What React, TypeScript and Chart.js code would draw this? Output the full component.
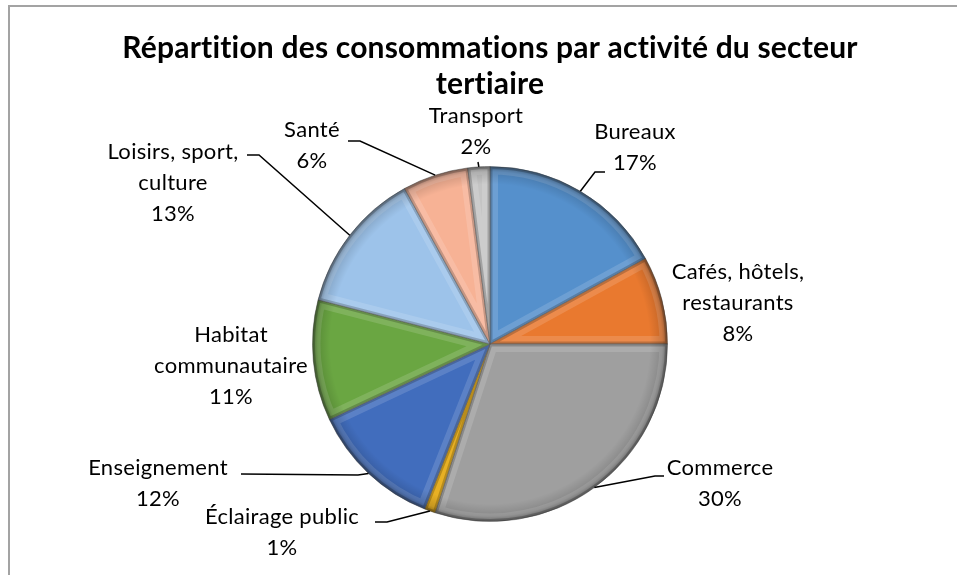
import React, { useEffect, useRef } from "react";
import { Chart, registerables } from "chart.js";

Chart.register(...registerables);

const categories = [
  "Bureaux",
  "Cafés, hôtels, restaurants",
  "Commerce",
  "Éclairage public",
  "Enseignement",
  "Habitat communautaire",
  "Loisirs, sport, culture",
  "Santé",
  "Transport",
];
const labelLines = [
  ["Bureaux"],
  ["Cafés, hôtels,", "restaurants"],
  ["Commerce"],
  ["Éclairage public"],
  ["Enseignement"],
  ["Habitat", "communautaire"],
  ["Loisirs, sport,", "culture"],
  ["Santé"],
  ["Transport"],
];
const shares = [17, 8, 30, 1, 12, 11, 13, 6, 2];
const sliceColors = [
  "#5590cc",
  "#e9792f",
  "#9f9f9f",
  "#e3a400",
  "#416dbd",
  "#6aa642",
  "#9dc3ea",
  "#f7b295",
  "#c4c4c4",
];
const titleLines = ["Répartition des consommations par activité du secteur", "tertiaire"];

// label layout relative to pie centre: [textCentreX, firstLineMidY], elbow, end (or null)
const labelLayout: { text: [number, number]; elbow: [number, number] | null; end: [number, number] | null }[] = [
  { text: [145, -212], elbow: [105, -172], end: [115, -172] },
  { text: [248, -72], elbow: null, end: null },
  { text: [230, 124], elbow: [165, 132], end: [174, 132] },
  { text: [-208, 173], elbow: [-103, 178], end: [-115, 178] },
  { text: [-332, 124], elbow: [-132, 131], end: [-249, 130] },
  { text: [-259, -9], elbow: null, end: null },
  { text: [-317, -192], elbow: [-231, -189], end: [-243, -189] },
  { text: [-178, -214], elbow: [-130, -203], end: [-142, -203] },
  { text: [-14, -228], elbow: [-12, -182], end: [-12, -182] },
];

const FONT = "Lato, 'Open Sans', sans-serif";

const bevelPlugin = {
  id: "bevel",
  afterDatasetsDraw(chart: any) {
    const ctx = chart.ctx;
    const meta = chart.getDatasetMeta(0);
    meta.data.forEach((arc: any) => {
      const { x, y, startAngle, endAngle, outerRadius } = arc.getProps(
        ["x", "y", "startAngle", "endAngle", "outerRadius"],
        true
      );
      ctx.save();
      ctx.beginPath();
      ctx.moveTo(x, y);
      ctx.arc(x, y, outerRadius, startAngle, endAngle);
      ctx.closePath();
      ctx.clip();
      ctx.lineJoin = "round";
      ctx.lineWidth = 16;
      ctx.strokeStyle = "rgba(255,255,255,0.14)";
      ctx.stroke();
      ctx.lineWidth = 5;
      ctx.strokeStyle = "rgba(0,0,0,0.2)";
      ctx.stroke();
      const g = ctx.createRadialGradient(x, y, 0, x, y, outerRadius);
      g.addColorStop(0, "rgba(0,0,0,0)");
      g.addColorStop(0.9, "rgba(0,0,0,0)");
      g.addColorStop(0.97, "rgba(0,0,0,0.14)");
      g.addColorStop(1, "rgba(0,0,0,0.38)");
      ctx.fillStyle = g;
      ctx.fillRect(x - outerRadius, y - outerRadius, outerRadius * 2, outerRadius * 2);
      ctx.restore();
    });
  },
};

const labelPlugin = {
  id: "outerLabels",
  afterDraw(chart: any) {
    const ctx = chart.ctx;
    const meta = chart.getDatasetMeta(0);
    const arc0 = meta.data[0];
    const cx = arc0.x;
    const cy = arc0.y;
    const total = shares.reduce((a, b) => a + b, 0);

    ctx.save();
    ctx.fillStyle = "#000";
    ctx.textAlign = "center";
    ctx.textBaseline = "middle";
    ctx.font = `bold 30px ${FONT}`;
    (ctx as any).letterSpacing = "0.2px";
    titleLines.forEach((t, i) => ctx.fillText(t, cx, 48 + i * 36));
    ctx.restore();

    meta.data.forEach((arc: any, i: number) => {
      const lay = labelLayout[i];
      const { startAngle, endAngle, outerRadius } = arc.getProps(
        ["startAngle", "endAngle", "outerRadius"],
        true
      );
      const mid = (startAngle + endAngle) / 2;
      if (lay.elbow && lay.end) {
        const rx = cx + Math.cos(mid) * outerRadius;
        const ry = cy + Math.sin(mid) * outerRadius;
        ctx.save();
        ctx.strokeStyle = "#000";
        ctx.lineWidth = 1.5;
        ctx.beginPath();
        ctx.moveTo(rx, ry);
        ctx.lineTo(cx + lay.elbow[0], cy + lay.elbow[1]);
        ctx.lineTo(cx + lay.end[0], cy + lay.end[1]);
        ctx.stroke();
        ctx.restore();
      }
      const pct = Math.round((shares[i] / total) * 100) + "%";
      const lines = [...labelLines[i], pct];
      ctx.save();
      ctx.fillStyle = "#000";
      ctx.textAlign = "center";
      ctx.textBaseline = "middle";
      ctx.font = `22px ${FONT}`;
      (ctx as any).letterSpacing = "0.3px";
      lines.forEach((t, k) => ctx.fillText(t, cx + lay.text[0], cy + lay.text[1] + k * 31));
      ctx.restore();
    });
  },
};

export default function App() {
  const ref = useRef<HTMLCanvasElement | null>(null);
  useEffect(() => {
    if (!ref.current) return;
    const chart = new Chart(ref.current, {
      type: "pie",
      data: {
        labels: categories,
        datasets: [
          {
            data: shares,
            backgroundColor: sliceColors,
            borderColor: "rgba(90,90,90,0.55)",
            borderWidth: 1,
          },
        ],
      },
      options: {
        responsive: false,
        animation: false,
        layout: { padding: { left: 312, right: 289, top: 166, bottom: 53 } },
        plugins: {
          legend: { display: false },
          tooltip: { enabled: false },
          title: { display: false },
        },
      },
      plugins: [bevelPlugin, labelPlugin],
    });
    return () => chart.destroy();
  }, []);
  return (
    <div style={{ position: "fixed", left: 0, top: 0, width: 957, height: 575, background: "#fff", overflow: "hidden" }}>
      <div
        style={{
          position: "absolute",
          left: 8,
          top: 5,
          width: 1200,
          height: 800,
          borderLeft: "2px solid #a3a3a3",
          borderTop: "2px solid #a3a3a3",
        }}
      />
      <canvas ref={ref} width={957} height={575} style={{ position: "absolute", left: 0, top: 0 }} />
    </div>
  );
}
